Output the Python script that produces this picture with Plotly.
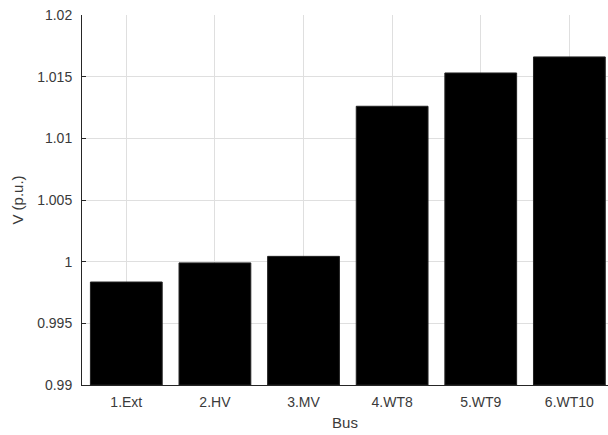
import plotly.graph_objects as go

buses = ["1.Ext", "2.HV", "3.MV", "4.WT8", "5.WT9", "6.WT10"]
voltage = [0.99835, 0.9999, 1.00043, 1.0126, 1.0153, 1.0166]
y_ticks = [0.99, 0.995, 1.0, 1.005, 1.01, 1.015, 1.02]
y_tick_labels = ["0.99", "0.995", "1", "1.005", "1.01", "1.015", "1.02"]
base_value = 0.99

fig = go.Figure(
    go.Bar(
        x=buses,
        y=[v - base_value for v in voltage],
        base=base_value,
        marker=dict(color="black", line=dict(color="#222222", width=1)),
        hovertext=[str(v) for v in voltage],
    )
)

font_family = "Liberation Sans, Arial, sans-serif"
txt = "#3a3a3a"
fig.update_layout(
    width=608,
    height=435,
    margin=dict(l=82, r=0, t=15, b=50),
    paper_bgcolor="white",
    plot_bgcolor="white",
    bargap=0.19,
    showlegend=False,
    font=dict(family=font_family, size=14, color=txt),
)
fig.update_xaxes(
    range=[-0.5, 5.436],
    showgrid=True,
    gridcolor="#dfdfdf",
    gridwidth=1,
    showline=True,
    linecolor="#262626",
    linewidth=1,
    ticks="",
    ticklabelstandoff=4,
    tickfont=dict(size=14, color=txt),
    title=dict(text="Bus", font=dict(size=15, color=txt), standoff=8),
)
fig.update_yaxes(
    range=[0.99, 1.02],
    tickvals=y_ticks,
    ticktext=y_tick_labels,
    showgrid=True,
    gridcolor="#dfdfdf",
    gridwidth=1,
    zeroline=False,
    showline=True,
    linecolor="#262626",
    linewidth=1,
    ticks="inside",
    ticklen=4,
    tickcolor="#262626",
    ticklabelstandoff=6,
    tickfont=dict(size=14, color=txt),
    title=dict(text="V (p.u.)", font=dict(size=15, color=txt), standoff=9),
)

fig.write_html(
    "out.html",
    config={"displayModeBar": False},
    post_script="document.body.style.margin='0';document.body.style.padding='0';",
)
